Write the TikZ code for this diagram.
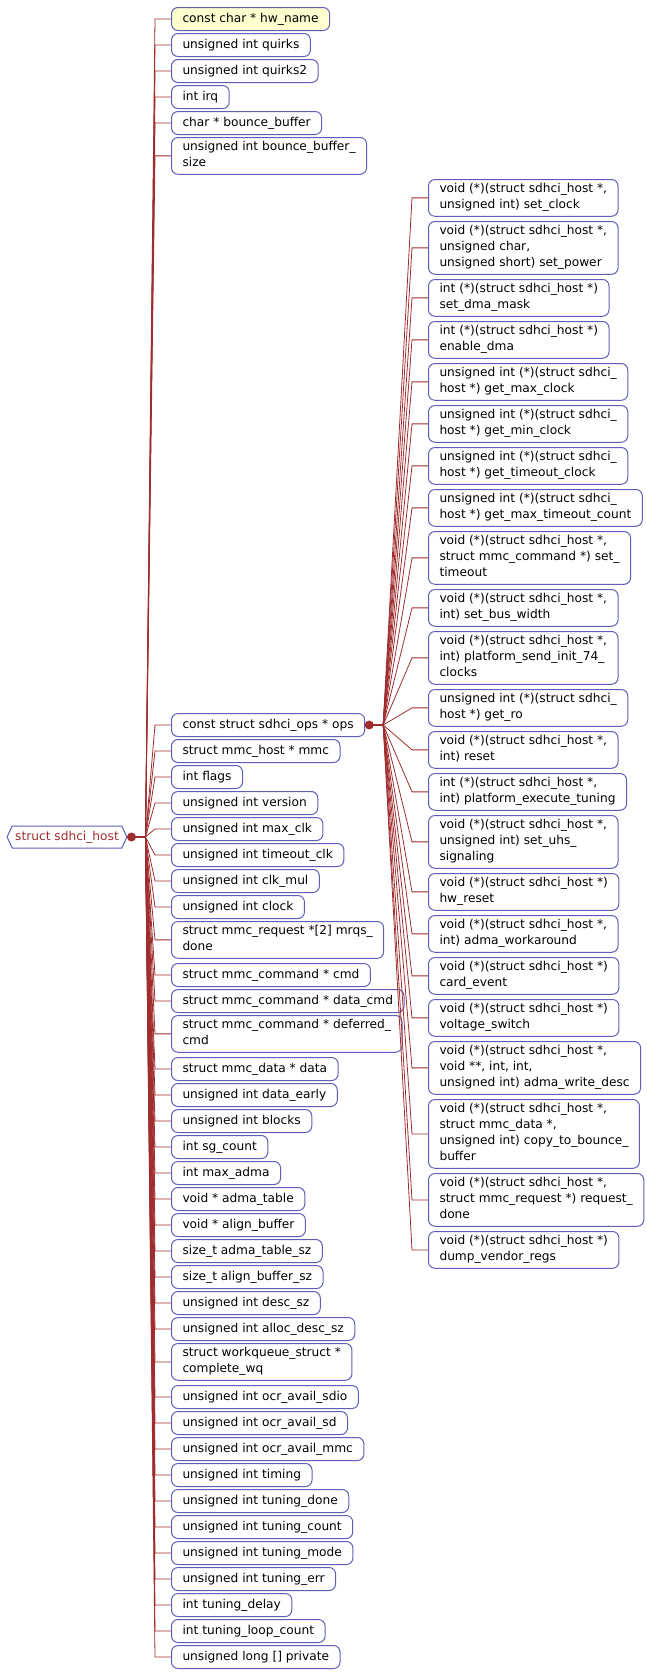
\documentclass[tikz,border=0pt]{standalone}
\usepackage{fontspec}
\setmainfont{DejaVu Sans}
\usepackage{tikz}
\usetikzlibrary{shapes.symbols}
\definecolor{linkred}{RGB}{160,45,45}
\definecolor{boxblue}{RGB}{95,95,185}
\definecolor{noteyellow}{RGB}{254,254,206}
\newcommand{\fstrut}{\vrule height 11.5pt depth 4.5pt width 0pt}

\begin{document}
\begin{tikzpicture}[x=1pt, y=-1pt, font=\fontsize{12.2}{16}\selectfont,
  campo/.style={draw=boxblue, line width=1pt, fill=white, rounded corners=6.5pt, align=left,
    anchor=north west, inner xsep=11pt, inner ysep=3.5pt,
    execute at begin node=\fstrut, execute at end node=\fstrut},
  primo/.style={campo, fill=noteyellow},
  radice/.style={signal, signal to=east and west, signal pointer angle=130, draw=boxblue,
    line width=1pt, text=linkred, inner xsep=3pt, inner ysep=3pt,
    execute at begin node=\fstrut, execute at end node=\fstrut},
  ramo/.style={draw=linkred, line width=0.8pt},
  nodo/.style={circle, fill=linkred, inner sep=0pt, minimum size=9pt}]
\useasboundingbox (0,0) rectangle (647,1674);
\node[radice] (root) at (67,837) {struct sdhci\_host};
% campi della struttura
\node[primo] (hwname)      at (171,7)    {const char * hw\_name};
\node[campo] (quirks)      at (171,33)   {unsigned int quirks};
\node[campo] (quirkstwo)   at (171,59)   {unsigned int quirks2};
\node[campo] (irq)         at (171,85)   {int irq};
\node[campo] (bbuf)        at (171,111)  {char * bounce\_buffer};
\node[campo] (bbufsize)    at (171,137)  {unsigned int bounce\_buffer\_\\size};
\node[campo] (ops)         at (171,713)  {const struct sdhci\_ops * ops};
\node[campo] (mmc)         at (171,739)  {struct mmc\_host * mmc};
\node[campo] (flags)       at (171,765)  {int flags};
\node[campo] (version)     at (171,791)  {unsigned int version};
\node[campo] (maxclk)      at (171,817)  {unsigned int max\_clk};
\node[campo] (timeoutclk)  at (171,843)  {unsigned int timeout\_clk};
\node[campo] (clkmul)      at (171,869)  {unsigned int clk\_mul};
\node[campo] (clock)       at (171,895)  {unsigned int clock};
\node[campo] (mrqsdone)    at (171,921)  {struct mmc\_request *[2] mrqs\_\\done};
\node[campo] (cmd)         at (171,963)  {struct mmc\_command * cmd};
\node[campo] (datacmd)     at (171,989)  {struct mmc\_command * data\_cmd};
\node[campo] (deferredcmd) at (171,1015) {struct mmc\_command * deferred\_\\cmd};
\node[campo] (data)        at (171,1057) {struct mmc\_data * data};
\node[campo] (dataearly)   at (171,1083) {unsigned int data\_early};
\node[campo] (blocks)      at (171,1109) {unsigned int blocks};
\node[campo] (sgcount)     at (171,1135) {int sg\_count};
\node[campo] (maxadma)     at (171,1161) {int max\_adma};
\node[campo] (admatable)   at (171,1187) {void * adma\_table};
\node[campo] (alignbuf)    at (171,1213) {void * align\_buffer};
\node[campo] (admatablesz) at (171,1239) {size\_t adma\_table\_sz};
\node[campo] (alignbufsz)  at (171,1265) {size\_t align\_buffer\_sz};
\node[campo] (descsz)      at (171,1291) {unsigned int desc\_sz};
\node[campo] (allocdescsz) at (171,1317) {unsigned int alloc\_desc\_sz};
\node[campo] (completewq)  at (171,1343) {struct workqueue\_struct *\\complete\_wq};
\node[campo] (ocrsdio)     at (171,1385) {unsigned int ocr\_avail\_sdio};
\node[campo] (ocrsd)       at (171,1411) {unsigned int ocr\_avail\_sd};
\node[campo] (ocrmmc)      at (171,1437) {unsigned int ocr\_avail\_mmc};
\node[campo] (timing)      at (171,1463) {unsigned int timing};
\node[campo] (tuningdone)  at (171,1489) {unsigned int tuning\_done};
\node[campo] (tuningcount) at (171,1515) {unsigned int tuning\_count};
\node[campo] (tuningmode)  at (171,1541) {unsigned int tuning\_mode};
\node[campo] (tuningerr)   at (171,1567) {unsigned int tuning\_err};
\node[campo] (tuningdelay) at (171,1593) {int tuning\_delay};
\node[campo] (tuningloop)  at (171,1619) {int tuning\_loop\_count};
\node[campo] (private)     at (171,1645) {unsigned long [] private};
% operazioni di sdhci_ops
\node[campo] (setclock)    at (428,179)  {void (*)(struct sdhci\_host *,\\unsigned int) set\_clock};
\node[campo] (setpower)    at (428,221)  {void (*)(struct sdhci\_host *,\\unsigned char,\\unsigned short) set\_power};
\node[campo] (setdmamask)  at (428,279)  {int (*)(struct sdhci\_host *)\\set\_dma\_mask};
\node[campo] (enabledma)   at (428,321)  {int (*)(struct sdhci\_host *)\\enable\_dma};
\node[campo] (getmaxclk)   at (428,363)  {unsigned int (*)(struct sdhci\_\\host *) get\_max\_clock};
\node[campo] (getminclk)   at (428,405)  {unsigned int (*)(struct sdhci\_\\host *) get\_min\_clock};
\node[campo] (gettoclk)    at (428,447)  {unsigned int (*)(struct sdhci\_\\host *) get\_timeout\_clock};
\node[campo] (getmaxto)    at (428,489)  {unsigned int (*)(struct sdhci\_\\host *) get\_max\_timeout\_count};
\node[campo] (settimeout)  at (428,531)  {void (*)(struct sdhci\_host *,\\struct mmc\_command *) set\_\\timeout};
\node[campo] (setbus)      at (428,589)  {void (*)(struct sdhci\_host *,\\int) set\_bus\_width};
\node[campo] (sendinit)    at (428,631)  {void (*)(struct sdhci\_host *,\\int) platform\_send\_init\_74\_\\clocks};
\node[campo] (getro)       at (428,689)  {unsigned int (*)(struct sdhci\_\\host *) get\_ro};
\node[campo] (reset)       at (428,731)  {void (*)(struct sdhci\_host *,\\int) reset};
\node[campo] (exectuning)  at (428,773)  {int (*)(struct sdhci\_host *,\\int) platform\_execute\_tuning};
\node[campo] (setuhs)      at (428,815)  {void (*)(struct sdhci\_host *,\\unsigned int) set\_uhs\_\\signaling};
\node[campo] (hwreset)     at (428,873)  {void (*)(struct sdhci\_host *)\\hw\_reset};
\node[campo] (admawork)    at (428,915)  {void (*)(struct sdhci\_host *,\\int) adma\_workaround};
\node[campo] (cardevent)   at (428,957)  {void (*)(struct sdhci\_host *)\\card\_event};
\node[campo] (voltswitch)  at (428,999)  {void (*)(struct sdhci\_host *)\\voltage\_switch};
\node[campo] (admawrite)   at (428,1041) {void (*)(struct sdhci\_host *,\\void **, int, int,\\unsigned int) adma\_write\_desc};
\node[campo] (copybounce)  at (428,1099) {void (*)(struct sdhci\_host *,\\struct mmc\_data *,\\unsigned int) copy\_to\_bounce\_\\buffer};
\node[campo] (reqdone)     at (428,1173) {void (*)(struct sdhci\_host *,\\struct mmc\_request *) request\_\\done};
\node[campo] (dumpregs)    at (428,1231) {void (*)(struct sdhci\_host *)\\dump\_vendor\_regs};
\coordinate (rootfan) at ([xshift=18pt]root.east);
\coordinate (opsfan) at ([xshift=18pt]ops.east);
\draw[ramo, line width=1.6pt] (root.east) -- (rootfan);
\draw[ramo, line width=1.6pt] (ops.east) -- (opsfan);
\foreach \f in {hwname,quirks,quirkstwo,irq,bbuf,bbufsize,ops,mmc,flags,version,maxclk,timeoutclk,
  clkmul,clock,mrqsdone,cmd,datacmd,deferredcmd,data,dataearly,blocks,sgcount,maxadma,admatable,
  alignbuf,admatablesz,alignbufsz,descsz,allocdescsz,completewq,ocrsdio,ocrsd,ocrmmc,timing,
  tuningdone,tuningcount,tuningmode,tuningerr,tuningdelay,tuningloop,private}
  \draw[ramo] (rootfan) -- ([xshift=-16pt]\f.west) -- (\f.west);
\foreach \f in {setclock,setpower,setdmamask,enabledma,getmaxclk,getminclk,gettoclk,getmaxto,
  settimeout,setbus,sendinit,getro,reset,exectuning,setuhs,hwreset,admawork,cardevent,
  voltswitch,admawrite,copybounce,reqdone,dumpregs}
  \draw[ramo] (opsfan) -- ([xshift=-16pt]\f.west) -- (\f.west);
\node[nodo] (rootdot) at ([xshift=4pt]root.east) {};
\node[nodo] (opsdot) at ([xshift=4pt]ops.east) {};
\end{tikzpicture}
\end{document}
